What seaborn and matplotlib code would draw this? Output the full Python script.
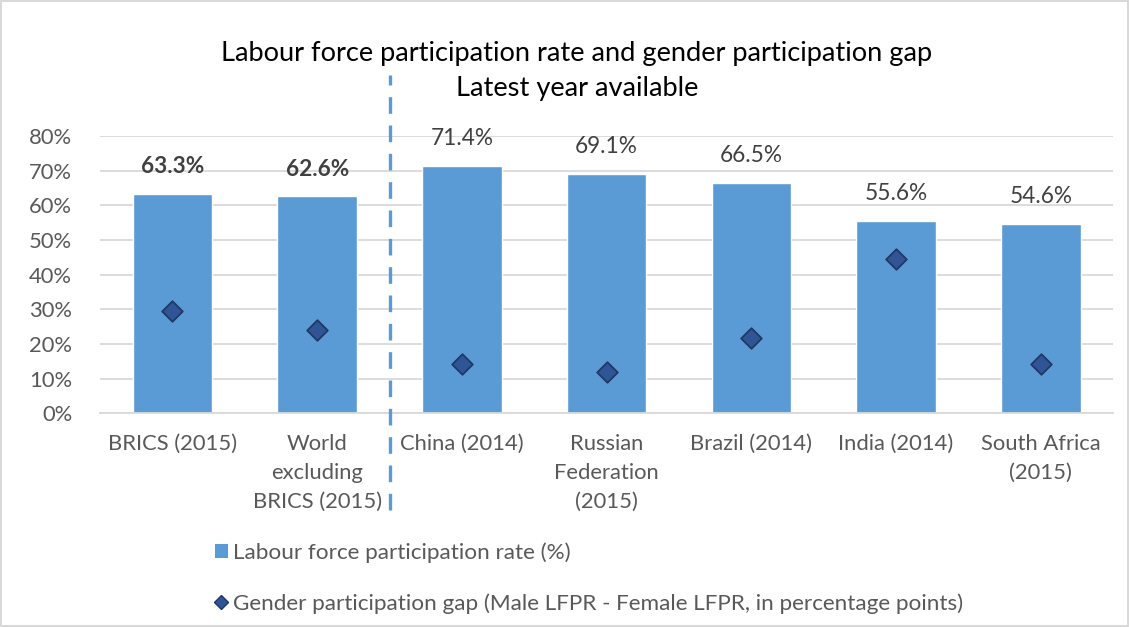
import pandas as pd
import seaborn as sns
import matplotlib.pyplot as plt
from matplotlib.lines import Line2D
from matplotlib.patches import Patch
from matplotlib.ticker import FuncFormatter
from matplotlib.transforms import blended_transform_factory

## Data
categories = [
    "BRICS (2015)",
    "World\nexcluding\nBRICS (2015)",
    "China (2014)",
    "Russian\nFederation\n(2015)",
    "Brazil (2014)",
    "India (2014)",
    "South Africa\n(2015)",
]
lfpr = [63.3, 62.6, 71.4, 69.1, 66.5, 55.6, 54.6]
gender_gap = [29.5, 24.0, 14.2, 11.8, 21.7, 44.5, 14.2]
bold_labels = [True, True, False, False, False, False, False]

df = pd.DataFrame({"country": categories, "lfpr": lfpr, "gap": gender_gap})

sns.set_style("white")
plt.rcParams["font.family"] = ["Lato", "DejaVu Sans"]

bar_color = "#5B9BD5"
text_gray = "#595959"

fig = plt.figure(figsize=(11.29, 6.27), dpi=100)
fig.patch.set_edgecolor("#d9d9d9")
fig.patch.set_linewidth(1.5)
ax = fig.add_axes([0.0886, 0.341, 0.8974, 0.442])

sns.barplot(data=df, x="country", y="lfpr", color=bar_color, saturation=1,
            width=0.55, ax=ax, zorder=2)
sns.scatterplot(data=df, x="country", y="gap", marker="D", s=110,
                color="#2F5597", edgecolor="#1F3864", linewidth=1.3,
                ax=ax, zorder=3, legend=False)

# value labels above bars
for i, (v, b) in enumerate(zip(lfpr, bold_labels)):
    ax.annotate(f"{v:.1f}%", (i, v), xytext=(0, 12), textcoords="offset points",
                ha="center", va="bottom", fontsize=16.3, color="#404040",
                fontweight="bold" if b else "normal")

ax.set_ylim(0, 80)
ax.set_xlim(-0.5, 6.5)
ax.set_yticks(range(0, 81, 10))
ax.yaxis.set_major_formatter(FuncFormatter(lambda v, p: f"{v:.0f}%"))
ax.grid(axis="y", color="#d9d9d9", linewidth=1.3, zorder=0)
ax.set_axisbelow(True)
ax.set_xlabel("")
ax.set_ylabel("")
ax.tick_params(axis="both", length=0, labelsize=15.8, colors=text_gray)
ax.tick_params(axis="x", pad=15)
ax.tick_params(axis="y", pad=20)
for lbl in ax.get_xticklabels():
    lbl.set_linespacing(1.55)
sns.despine(ax=ax, left=True, top=True, right=True)
ax.spines["bottom"].set_color("#d9d9d9")
ax.spines["bottom"].set_linewidth(1.3)

# dashed separator between aggregates and countries
trans = blended_transform_factory(ax.transData, ax.transAxes)
ax.plot([1.5, 1.5], [-0.35, 1.22], transform=trans, clip_on=False,
        color=bar_color, linewidth=2.4, dashes=(5, 3.5), zorder=4)

fig.text(0.511, 0.915, "Labour force participation rate and gender participation gap",
         ha="center", va="center", fontsize=19.6, color="black")
fig.text(0.511, 0.859, "Latest year available",
         ha="center", va="center", fontsize=19.6, color="black")

handles = [
    Patch(facecolor=bar_color, edgecolor="none"),
    Line2D([], [], marker="D", linestyle="none", markersize=7.5,
           markerfacecolor="#2F5597", markeredgecolor="#1F3864"),
]
labels = [
    "Labour force participation rate (%)",
    "Gender participation gap (Male LFPR - Female LFPR, in percentage points)",
]
fig.legend(handles, labels, loc="upper left", bbox_to_anchor=(0.19, 0.135),
           frameon=False, fontsize=16.2, labelcolor=text_gray, handlelength=0.6,
           handleheight=0.6, handletextpad=0.2, labelspacing=1.35,
           borderpad=0, borderaxespad=0)

plt.savefig("out.png", dpi=100, edgecolor=fig.get_edgecolor())
